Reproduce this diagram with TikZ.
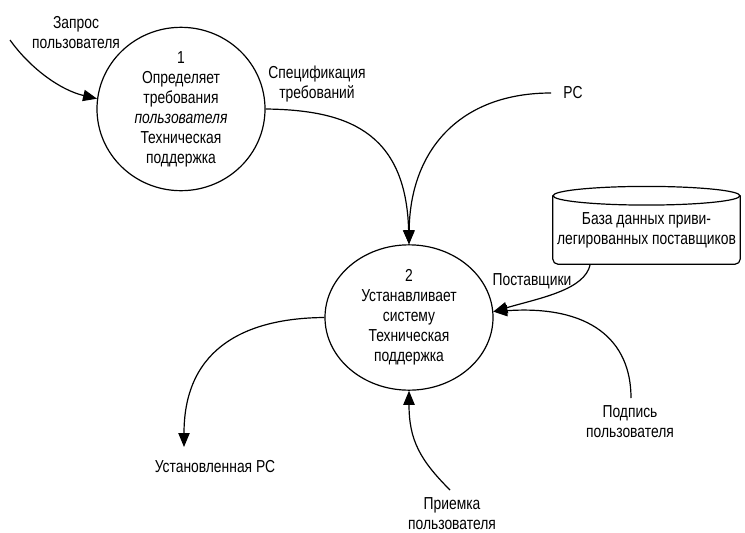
\documentclass[tikz,border=0pt]{standalone}
\usepackage{fontspec}
\setmainfont{Liberation Sans}[FakeStretch=0.8]
\usetikzlibrary{arrows.meta,shapes.geometric,calc}

\begin{document}
\begin{tikzpicture}[x=0.75pt,y=-0.75pt,
  every node/.style={font=\fontsize{13}{15}\selectfont, align=center, inner sep=0pt},
  proc/.style={draw, ellipse, line width=0.9pt, minimum width=126pt},
  flow/.style={line width=0.9pt, -{Triangle[length=10.5pt,width=8.5pt]}},
  store/.style={minimum width=140.25pt, minimum height=51pt}]
\useasboundingbox (0,0) rectangle (745,532);

% processes
\node[proc, minimum height=99pt] (p1) at (181,109)
  {1\\Определяет\\требования\\\textit{пользователя}\\Техническая\\поддержка};
\node[proc, minimum height=109pt] (p2) at (409,317.5)
  {2\\Устанавливает\\систему\\Техническая\\поддержка};

% data store
\node[store] (db) at (646.5,230) {База данных приви-\\легированных поставщиков};
\draw[line width=0.9pt, rounded corners=4pt]
  (db.north west) -- (db.south west) -- (db.south east) -- (db.north east);
\draw[line width=0.9pt, fill=white] (db.north) ellipse [x radius=70.1pt, y radius=7pt];

% free ends of the flows
\coordinate (zin) at (10,40);
\coordinate (pcin) at (551,93);
\coordinate (sgn) at (631,398);
\coordinate (acc) at (450,490);
\coordinate (out) at (184,447);
\coordinate (dbout) at ($(db.south west)!0.2!(db.south east)$);

% flows
\draw[flow] (zin) .. controls (30,68) and (60,90) .. (p1.173);
\draw[flow] (p1.east) .. controls (345,110) and (406,130) .. (p2.north);
\draw[flow] (pcin) .. controls (460,93) and (410,150) .. (p2.north);
\draw[flow] (dbout) .. controls (585,290) and (540,298) .. (p2.4);
\draw[flow] (sgn) .. controls (631,340) and (590,305) .. (p2.4);
\draw[flow] (p2.west) .. controls (250,318) and (184,345) .. (out);
\draw[flow] (acc) .. controls (420,460) and (409,440) .. (p2.south);

% flow labels
\node (lz) at (76,33) {Запрос\\пользователя};
\node (lspec) at (317,84) {Спецификация\\требований};
\node (lpc) at (573,93) {РС};
\node (lsup) at (532,281) {Поставщики};
\node (lsgn) at (630,422) {Подпись\\пользователя};
\node (lout) at (215,467) {Установленная РС};
\node (lacc) at (452,514) {Приемка\\пользователя};
\end{tikzpicture}
\end{document}
